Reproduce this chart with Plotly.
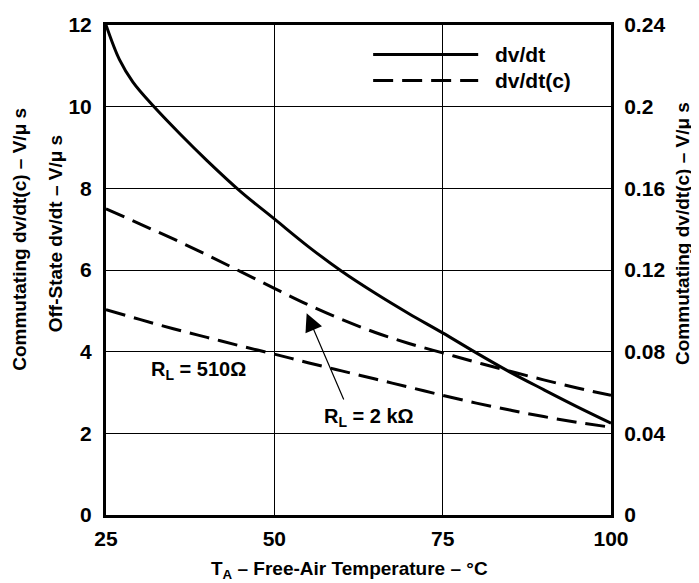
import plotly.graph_objects as go

temps_dvdt = [25, 27, 29, 32, 36, 40, 45, 50, 55, 60, 65, 70, 75, 80, 85, 90, 95, 100]
dvdt = [12.0, 11.15, 10.6, 10.02, 9.33, 8.68, 7.92, 7.25, 6.58, 5.97, 5.43, 4.93, 4.46, 3.97, 3.5, 3.07, 2.65, 2.25]
temps_c = [25, 30, 35, 40, 45, 50, 55, 60, 65, 70, 75, 80, 85, 90, 95, 100]
dvdtc_2k = [0.150, 0.1426, 0.1352, 0.1274, 0.1192, 0.111, 0.103, 0.0958, 0.0894, 0.084, 0.0794, 0.0748, 0.0704, 0.0662, 0.0622, 0.0586]
dvdtc_510 = [0.1006, 0.0958, 0.0912, 0.087, 0.0828, 0.0788, 0.0746, 0.0706, 0.0666, 0.0626, 0.0586, 0.0548, 0.0514, 0.0482, 0.0454, 0.043]
left_ticks = [0, 2, 4, 6, 8, 10, 12]
right_ticks = [0, 0.04, 0.08, 0.12, 0.16, 0.2, 0.24]
right_ticktext = ["0", "0.04", "0.08", "0.12", "0.16", "0.2", "0.24"]
x_ticks = [25, 50, 75, 100]

FONT = "Liberation Sans, Arial, sans-serif"
TICK = dict(family=FONT, size=21, color="black", weight="bold")
TITLE = dict(family=FONT, size=19, color="black", weight="bold")
LABEL = dict(family=FONT, size=20, color="black", weight="bold")

fig = go.Figure()
fig.add_trace(go.Scatter(x=temps_dvdt, y=dvdt, mode="lines", line=dict(color="black", width=3, shape="spline"),
                         showlegend=False, name="dv/dt"))
fig.add_trace(go.Scatter(x=temps_c, y=dvdtc_2k, mode="lines", yaxis="y2",
                         line=dict(color="black", width=3, dash="20px,9px", shape="spline"),
                         showlegend=False, name="dv/dt(c) 2k"))
fig.add_trace(go.Scatter(x=temps_c, y=dvdtc_510, mode="lines", yaxis="y2",
                         line=dict(color="black", width=3, dash="20px,9px", shape="spline"),
                         showlegend=False, name="dv/dt(c) 510"))

fig.update_layout(
    width=691, height=575,
    margin=dict(l=98, r=88, t=5, b=68),
    paper_bgcolor="white", plot_bgcolor="white",
    font=dict(family=FONT, size=18, color="black"),
    xaxis=dict(range=[25, 100], tickvals=x_ticks, showgrid=True, gridcolor="black", gridwidth=1,
               showline=True, linecolor="black", linewidth=3, mirror=True, ticks="",
               ticklabelstandoff=3, zeroline=False, tickfont=TICK, ticklabeloverflow="allow"),
    yaxis=dict(range=[0, 12], tickvals=left_ticks, showgrid=True, gridcolor="black", gridwidth=1,
               showline=True, linecolor="black", linewidth=3, ticks="", zeroline=False,
               ticklabelstandoff=7, tickfont=TICK, ticklabeloverflow="allow"),
    yaxis2=dict(range=[0, 0.24], tickvals=right_ticks, ticktext=right_ticktext, overlaying="y", side="right",
                showgrid=False, showline=True, linecolor="black", linewidth=3, ticks="", zeroline=False,
                ticklabelstandoff=6, tickfont=TICK, ticklabeloverflow="allow"),
)

fig.add_annotation(text="Commutating dv/dt(c) – V/μ s", xref="paper", yref="paper", x=-0.172, y=0.562,
                   xanchor="center", yanchor="middle", textangle=-90, showarrow=False, font=TITLE)
fig.add_annotation(text="Off-State dv/dt – V/μ s", xref="paper", yref="paper", x=-0.1, y=0.574,
                   xanchor="center", yanchor="middle", textangle=-90, showarrow=False, font=TITLE)
fig.add_annotation(text="Commutating dv/dt(c) – V/μ s", xref="paper", yref="paper", x=1.143, y=0.574,
                   xanchor="center", yanchor="middle", textangle=-90, showarrow=False, font=TITLE)
fig.add_annotation(text="T<sub>A</sub> – Free-Air Temperature – °C", xref="paper", yref="paper", x=0.483, y=-0.112,
                   xanchor="center", yanchor="middle", showarrow=False, font=TITLE)

# curve labels
fig.add_annotation(text="R<sub>L</sub> = 510Ω", x=38.7, y=3.54, showarrow=False, font=LABEL)
fig.add_annotation(text="R<sub>L</sub> = 2 kΩ", x=64.1, y=2.39, showarrow=False, font=LABEL)
fig.add_annotation(x=54.8, y=4.94, ax=60.4, ay=2.79, xref="x", yref="y", axref="x", ayref="y",
                   text="", showarrow=True, arrowhead=2, arrowsize=3, arrowwidth=1.2, arrowcolor="black")

# legend
fig.add_shape(type="line", xref="paper", yref="paper", x0=0.529, x1=0.737, y0=0.9396, y1=0.9396,
              line=dict(color="black", width=3))
fig.add_shape(type="line", xref="paper", yref="paper", x0=0.529, x1=0.737, y0=0.8865, y1=0.8865,
              line=dict(color="black", width=3, dash="20px,9px"))
fig.add_annotation(text="dv/dt", xref="paper", yref="paper", x=0.766, y=0.9396, xanchor="left", yanchor="middle",
                   showarrow=False, font=TICK)
fig.add_annotation(text="dv/dt(c)", xref="paper", yref="paper", x=0.766, y=0.8865, xanchor="left", yanchor="middle",
                   showarrow=False, font=TICK)

fig.write_html("out.html")
